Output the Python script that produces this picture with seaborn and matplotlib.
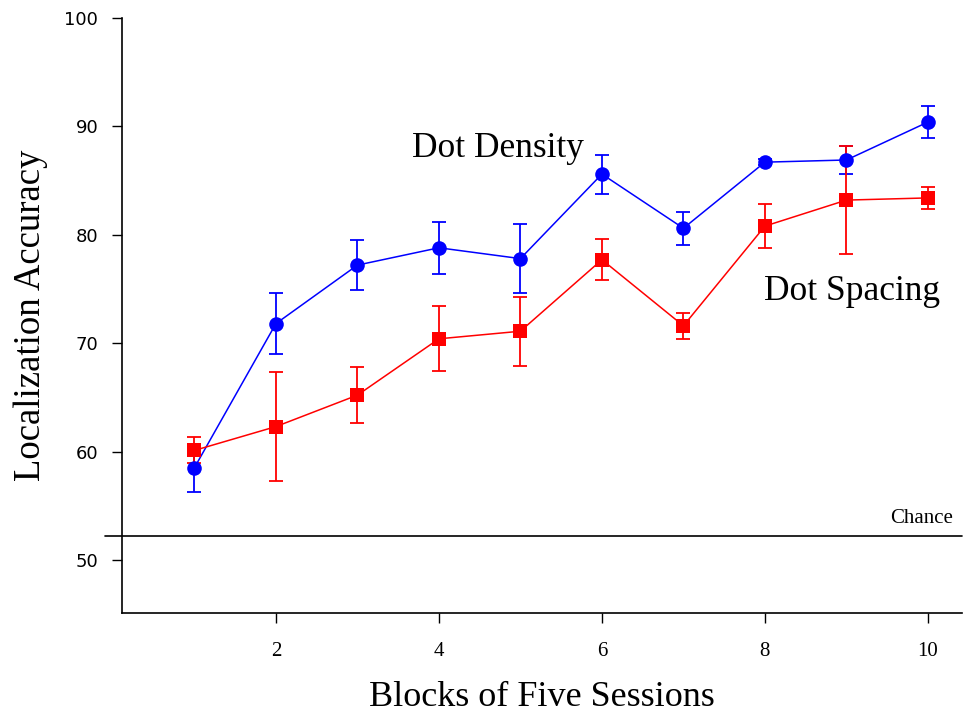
import numpy as np
import pandas as pd
import matplotlib
matplotlib.use("Agg")
import matplotlib.pyplot as plt
import seaborn as sns

blocks = [1, 2, 3, 4, 5, 6, 7, 8, 9, 10]
density_mean = [58.5, 71.8, 77.2, 78.8, 77.8, 85.6, 80.6, 86.7, 86.9, 90.4]
density_err = [2.2, 2.8, 2.3, 2.4, 3.2, 1.8, 1.5, 0.3, 1.3, 1.5]
spacing_mean = [60.1, 62.3, 65.2, 70.4, 71.1, 77.7, 71.6, 80.8, 83.2, 83.4]
spacing_err = [1.2, 5.0, 2.6, 3.0, 3.2, 1.9, 1.2, 2.0, 5.0, 1.0]
chance_level = 52.2
y_ticks = [50, 60, 70, 80, 90, 100]
x_ticks = [2, 4, 6, 8, 10]

sns.set_style("ticks")
plt.rcParams['font.family'] = ['Liberation Serif', 'DejaVu Serif']
plt.rcParams['text.color'] = 'black'
plt.rcParams['axes.labelcolor'] = 'black'
plt.rcParams['xtick.color'] = 'black'
plt.rcParams['ytick.color'] = 'black'

fig = plt.figure(figsize=(9.67, 7.21), dpi=100)
ax = fig.add_axes([0.126, 0.1498, 0.869, 0.8252])

df = pd.DataFrame({
    "block": blocks * 2,
    "acc": density_mean + spacing_mean,
    "cond": ["Dot Density"] * len(blocks) + ["Dot Spacing"] * len(blocks),
})

colors = {"Dot Density": "#0000ff", "Dot Spacing": "#ff0000"}
sns.lineplot(data=df, x="block", y="acc", hue="cond", style="cond",
             palette=colors, markers={"Dot Density": "o", "Dot Spacing": "s"},
             dashes=False, markersize=10.5, markeredgewidth=0, linewidth=1.1,
             legend=False, ax=ax, zorder=3)

ax.errorbar(blocks, density_mean, yerr=density_err, fmt="none",
            ecolor="#0000ff", elinewidth=1.3, capsize=5, capthick=1.3, zorder=2)
ax.errorbar(blocks, spacing_mean, yerr=spacing_err, fmt="none",
            ecolor="#ff0000", elinewidth=1.3, capsize=5, capthick=1.3, zorder=2)

ax.axhline(chance_level, xmin=-0.02, xmax=1.0, color="black", lw=1.2, clip_on=False)
ax.text(9.92, 53.8, "Chance", fontsize=15, ha="center", va="center", color="black")
ax.text(4.72, 88.0, "Dot Density", fontsize=25.5, ha="center", va="center", color="black")
ax.text(9.07, 74.8, "Dot Spacing", fontsize=25.5, ha="center", va="center", color="black")

ax.set_xlim(0.11, 10.42)
ax.set_ylim(45.1, 100)
ax.set_yticks(y_ticks)
ax.set_xticks(x_ticks)
ax.set_yticklabels([str(v) for v in y_ticks], family="DejaVu Sans", fontsize=13)
ax.set_xticklabels([str(v) for v in x_ticks], fontsize=15)
ax.tick_params(axis="both", direction="out", length=7, width=1, color="black",
               labelcolor="black")
ax.tick_params(axis="y", pad=10)
ax.tick_params(axis="x", pad=14)

ax.set_xlabel("Blocks of Five Sessions", fontsize=26, labelpad=14, color="black")
ax.set_ylabel("Localization Accuracy", fontsize=26.5, labelpad=12, color="black")

sns.despine(ax=ax)
for s in ["left", "bottom"]:
    ax.spines[s].set_linewidth(1.2)
    ax.spines[s].set_color("black")

fig.savefig("out.png", dpi=100)
